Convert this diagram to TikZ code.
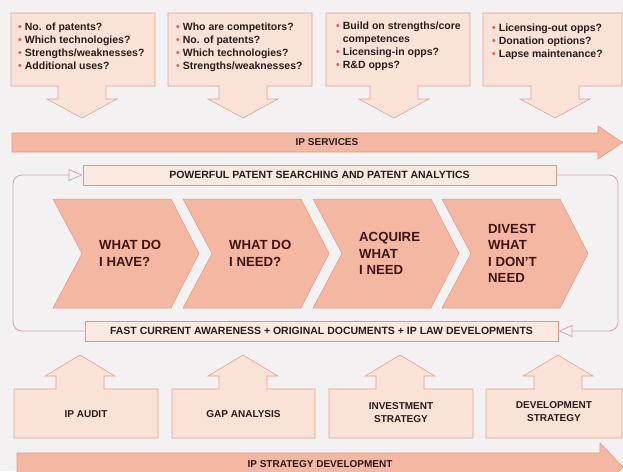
\documentclass[tikz,border=0pt]{standalone}
\usepackage{fontspec}
\setmainfont{Liberation Sans}
\usepackage{xcolor}
\usetikzlibrary{arrows.meta,positioning,calc}
\definecolor{paper}{HTML}{F3F1F1}
\definecolor{salmon}{HTML}{F4B7A1}
\definecolor{salmonline}{HTML}{E39A88}
\definecolor{peach}{HTML}{FAE2D7}
\definecolor{peachline}{HTML}{E2A597}
\definecolor{barfill}{HTML}{FBEADF}
\definecolor{barline}{HTML}{D99A8E}
\definecolor{loopline}{HTML}{D5A7B2}
\definecolor{inkdark}{HTML}{2A1B1B}
\definecolor{inkmaroon}{HTML}{3E1517}
\definecolor{bulletred}{HTML}{E2604E}
\newcommand{\bul}{\textcolor{bulletred}{\textbullet}\hspace{3pt}}
\newcommand{\nobul}{\phantom{\textbullet}\hspace{3pt}}

\begin{document}
\begin{tikzpicture}[
  x=1pt, y=-1pt,
  font=\bfseries,
  callout/.style={draw=peachline, fill=peach, line width=0.6pt},
  chevron/.style={draw=salmonline, fill=salmon, line width=0.5pt},
  bigarrow/.style={draw=salmonline, fill=salmon, line width=0.6pt},
  bar/.style={
    draw=barline,
    fill=barfill,
    line width=0.7pt,
    minimum width=473pt,
    minimum height=20pt,
    inner sep=0pt,
    text=inkdark,
    font=\bfseries\fontsize{10.5}{12}\selectfont
  },
  question/.style={anchor=north west, align=left, inner sep=0pt, text=inkdark, font=\bfseries\fontsize{10.5}{13}\selectfont},
  stage/.style={anchor=west, align=left, inner sep=0pt, text=inkmaroon, font=\bfseries\fontsize{13.2}{16.5}\selectfont},
  tool/.style={align=center, inner sep=0pt, text=inkdark, font=\bfseries\fontsize{10}{13}\selectfont},
  barlabel/.style={inner sep=0pt, text=inkdark, font=\bfseries\fontsize{10}{12}\selectfont},
  feedback/.style={draw=loopline, line width=0.8pt, rounded corners=9pt, -{Triangle[open, length=14pt, width=12pt]}}
]
  \useasboundingbox (0,0) rectangle (623,471);
  \clip (0,0) rectangle (623,471);
  \fill[paper] (0,0) rectangle (623,471);

  % questions feeding the services
  \foreach \l/\r/\c in {11/155/82, 168/312/243, 326/470/394, 483/622/555}
    \path[callout] (\l,13) -- (\r,13) -- (\r,86) -- (\c+24,86) -- (\c+24,99) -- (\c+35,99) -- (\c,118)
      -- (\c-35,99) -- (\c-24,99) -- (\c-24,86) -- (\l,86) -- cycle;
  \node[question] (have) at (18,23) {\bul No. of patents?\\ \bul Which technologies?\\ \bul Strengths/weaknesses?\\ \bul Additional uses?};
  \node[question] (need) at (176,23) {\bul Who are competitors?\\ \bul No. of patents?\\ \bul Which technologies?\\ \bul Strengths/weaknesses?};
  \node[question] (acquire) at (336,22) {\bul Build on strengths/core\\ \nobul competences\\ \bul Licensing-in opps?\\ \bul R\&D opps?};
  \node[question] (divest) at (492,24) {\bul Licensing-out opps?\\ \bul Donation options?\\ \bul Lapse maintenance?};

  \path[bigarrow] (12,133) -- (598,133) -- (598,126) -- (622.5,142.5) -- (598,159) -- (598,152) -- (12,152) -- cycle;
  \node[barlabel] (services) at (327,142.5) {IP SERVICES};

  % information loop
  \node[bar] (powerful) at (319.5,175) {POWERFUL PATENT SEARCHING AND PATENT ANALYTICS};
  \node[bar] (fast) at (321.5,331) {FAST CURRENT AWARENESS + ORIGINAL DOCUMENTS + IP LAW DEVELOPMENTS};
  \coordinate (westrail) at (13,0);
  \coordinate (eastrail) at (618,0);
  \draw[feedback] (fast.west) -- (fast.west -| westrail) -- (powerful.west -| westrail) -- (powerful.west);
  \draw[feedback] (powerful.east) -- (powerful.east -| eastrail) -- (fast.east -| eastrail) -- (fast.east);

  \foreach \x/\txt [count=\i] in {{53/WHAT DO\\I HAVE?}, {183/WHAT DO\\I NEED?}, {313/ACQUIRE\\WHAT\\I NEED}, {442/DIVEST\\WHAT\\I DON'T\\NEED}} {
    \path[chevron] (\x,199) -- (\x+118,199) -- (\x+146,253.5) -- (\x+118,308) -- (\x,308) -- (\x+29,253.5) -- cycle;
    \node[stage] (stage\i) at (\x+46,253.5) {\txt};
  }

  % strategy tools
  \foreach \l/\r/\c in {14/158/80, 172/315/243, 329/473/400, 486/622/558}
    \path[callout] (\l,438) -- (\l,389) -- (\c-24,389) -- (\c-24,376) -- (\c-35,376) -- (\c,355)
      -- (\c+35,376) -- (\c+24,376) -- (\c+24,389) -- (\r,389) -- (\r,438) -- cycle;
  \node[tool] (audit) at (86,414) {IP AUDIT};
  \node[tool] (gap) at (243.5,414) {GAP ANALYSIS};
  \node[tool] (invest) at (401,413) {INVESTMENT\\STRATEGY};
  \node[tool] (develop) at (554,412) {DEVELOPMENT\\STRATEGY};

  \path[bigarrow] (17,453) -- (600,453) -- (600,443) -- (623,467) -- (600,491) -- (600,481) -- (17,481) -- cycle;
  \node[barlabel] (strategy) at (320,464) {IP STRATEGY DEVELOPMENT};
\end{tikzpicture}
\end{document}
